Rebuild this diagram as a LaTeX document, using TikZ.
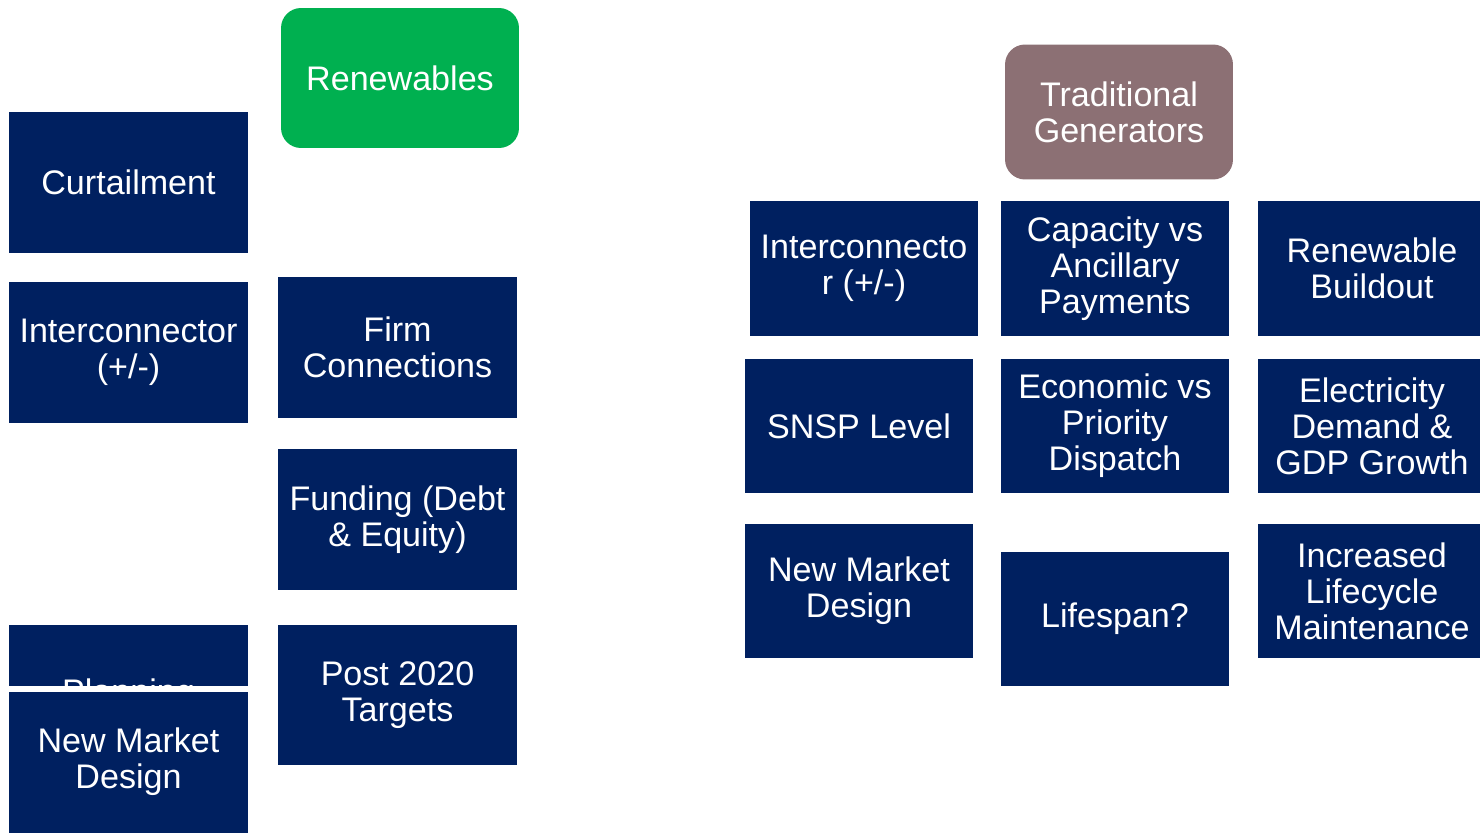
\documentclass[tikz,border=0pt]{standalone}
\usepackage{fontspec}
\setmainfont{Liberation Sans}
\usepackage{tikz}
\usetikzlibrary{positioning}
\definecolor{navy}{HTML}{002060}
\definecolor{grass}{HTML}{00B050}
\definecolor{mauve}{HTML}{8C7074}
\tikzset{
x=0.02cm, y=-0.02cm, % one unit is one pixel of the slide
every node/.style={align=center, text=white, inner sep=0pt, font=\fontsize{19.4}{20.5}\selectfont},
tile/.style={fill=navy, minimum width=4.78cm, minimum height=2.82cm}, % boxes of the left column
cell/.style={fill=navy, minimum width=4.56cm, minimum height=2.70cm}, % boxes of the right grid
head/.style={rounded corners=0.4cm}, % the two coloured headings
}
\begin{document}
\begin{tikzpicture}
                \useasboundingbox (0,0) rectangle (1480,832);
                % left group
                \node[head, fill=grass, minimum width=4.76cm, minimum height=2.80cm] (renew) at (400,78) {Renewables};
                \node[tile] (curtail) at (128.5,182.5) {Curtailment};
                \node[tile] (interl) at (128.5,352.5) {Interconnector\\(+/-)};
                \node[tile] (firm) at (397.5,347.5) {Firm\\Connections};
                \node[tile] (funding) at (397.5,519.5) {Funding (Debt\\\& Equity)};
                \node[tile] (post) at (397.5,695) {Post 2020\\Targets};
                \node[tile] (planning) at (128.5,695) {Planning};
                \node[tile, minimum height=2.92cm] (marketl) at (128.5,762) {New Market\\Design};
                \draw[white, line width=0.12cm] (marketl.north west) -- (marketl.north east);
                % right group
                \node[head, fill=mauve, minimum width=4.56cm, minimum height=2.70cm] (trad) at (1119,112) {Traditional\\Generators};
                \node[cell] (interr) at (864,268.5) {Interconnecto\\r (+/-)};
                \node[cell] (capacity) at (1115,268.5) {Capacity vs\\Ancillary\\Payments};
                \node[cell] (buildout) at (1372,268.5) {Renewable\\Buildout};
                \node[cell] (snsp) at (859,426) {SNSP Level};
                \node[cell] (dispatch) at (1115,426) {Economic vs\\Priority\\Dispatch};
                \node[cell] (demand) at (1372,426) {Electricity\\Demand \&\\GDP Growth};
                \node[cell] (marketr) at (859,591) {New Market\\Design};
                \node[cell] (lifespan) at (1115,619) {Lifespan?};
                \node[cell] (upkeep) at (1372,591) {Increased\\Lifecycle\\Maintenance};
\end{tikzpicture}
\end{document}
